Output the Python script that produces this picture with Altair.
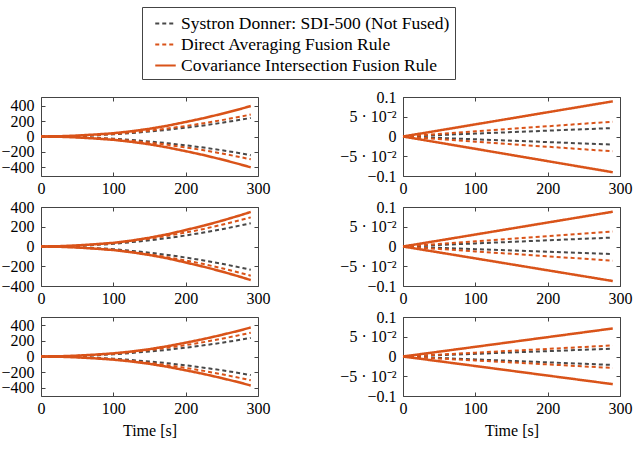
import altair as alt
import pandas as pd

FONT = "Liberation Serif"

T_LEFT = [0, 25, 50, 75, 100, 125, 150, 175, 200, 225, 250, 275, 290]
T_RIGHT = [0, 100, 200, 290]

SERIES = ["Systron Donner: SDI-500 (Not Fused)",
          "Direct Averaging Fusion Rule",
          "Covariance Intersection Fusion Rule"]
COLORS = ["#484848", "#D95319", "#D95319"]
DASHES = [[4, 3], [4, 3], [1, 0]]
WIDTHS = [2.0, 2.0, 2.5]

# ---- left column (x-axis error bounds, large scale) ----
L1_SYS_UP = [0, 2, 7, 16, 28, 45, 64, 87, 114, 144, 178, 216, 240]
L1_SYS_DN = [0, -2, -7, -16, -28, -45, -64, -87, -114, -144, -178, -216, -242]
L1_AVG_UP = [0, 2, 8, 19, 34, 53, 76, 104, 136, 172, 212, 256, 285]
L1_AVG_DN = [0, -2, -9, -20, -35, -55, -79, -108, -141, -178, -220, -266, -296]
L1_CI_UP = [0, 3, 12, 26, 42, 68, 100, 140, 188, 238, 294, 355, 395]
L1_CI_DN = [0, -3, -12, -26, -43, -69, -101, -142, -190, -241, -298, -360, -400]

L2_SYS_UP = [0, 2, 7, 16, 27, 44, 63, 85, 112, 141, 174, 212, 235]
L2_SYS_DN = [0, -2, -7, -16, -27, -44, -63, -85, -112, -141, -174, -212, -235]
L2_AVG_UP = [0, 2, 9, 20, 35, 55, 79, 108, 141, 178, 220, 266, 295]
L2_AVG_DN = [0, -2, -9, -20, -35, -55, -79, -108, -141, -178, -220, -266, -296]
L2_CI_UP = [0, 3, 11, 23, 37, 60, 89, 124, 167, 211, 261, 315, 350]
L2_CI_DN = [0, -3, -10, -22, -36, -58, -86, -120, -162, -205, -253, -306, -340]

L3_SYS_UP = [0, 2, 7, 16, 28, 45, 64, 86, 113, 143, 176, 214, 238]
L3_SYS_DN = [0, -2, -7, -16, -28, -45, -64, -86, -113, -143, -176, -214, -238]
L3_AVG_UP = [0, 2, 9, 21, 36, 57, 82, 111, 146, 184, 227, 275, 305]
L3_AVG_DN = [0, -2, -9, -21, -36, -57, -82, -111, -146, -184, -227, -275, -305]
L3_CI_UP = [0, 3, 11, 24, 40, 64, 94, 132, 177, 224, 277, 334, 372]
L3_CI_DN = [0, -3, -11, -24, -40, -64, -94, -132, -177, -224, -277, -334, -372]

# ---- right column (small scale) ----
R1_SYS_UP = [0, 0.0074, 0.0148, 0.0214]
R1_SYS_DN = [0, -0.0071, -0.0141, -0.0205]
R1_AVG_UP = [0, 0.0130, 0.0259, 0.0376]
R1_AVG_DN = [0, -0.0130, -0.0259, -0.0376]
R1_CI_UP = [0, 0.0307, 0.0614, 0.0890]
R1_CI_DN = [0, -0.0312, -0.0624, -0.0905]

R2_SYS_UP = [0, 0.0078, 0.0157, 0.0227]
R2_SYS_DN = [0, -0.0067, -0.0133, -0.0193]
R2_AVG_UP = [0, 0.0131, 0.0262, 0.0380]
R2_AVG_DN = [0, -0.0124, -0.0248, -0.0360]
R2_CI_UP = [0, 0.0303, 0.0607, 0.0880]
R2_CI_DN = [0, -0.0301, -0.0603, -0.0874]

R3_SYS_UP = [0, 0.0068, 0.0136, 0.0197]
R3_SYS_DN = [0, -0.0074, -0.0148, -0.0214]
R3_AVG_UP = [0, 0.0097, 0.0193, 0.0280]
R3_AVG_DN = [0, -0.0100, -0.0200, -0.0290]
R3_CI_UP = [0, 0.0245, 0.0490, 0.0710]
R3_CI_DN = [0, -0.0241, -0.0483, -0.0700]

X_TICKS = [0, 100, 200, 300]
LEFT_TICKS = [-400, -200, 0, 200, 400]
RIGHT_TICKS = [-0.1, -0.05, 0, 0.05, 0.1]

W, H = 217, 79


def make_df(t, sys_up, sys_dn, avg_up, avg_dn, ci_up, ci_dn):
    rows = []
    groups = [(0, "up", sys_up), (0, "dn", sys_dn),
              (1, "up", avg_up), (1, "dn", avg_dn),
              (2, "up", ci_up), (2, "dn", ci_dn)]
    for k, (si, b, vals) in enumerate(groups):
        for tt, v in zip(t, vals):
            rows.append({"t": tt, "v": v, "series": SERIES[si],
                         "line": f"{si}-{b}", "w": WIDTHS[si], "ord": k})
    return pd.DataFrame(rows)


RIGHT_LABELS = ("datum.value > 0.09 ? '0.1' : datum.value > 0.04 ? '5 · 10⁻²' : "
                "datum.value > -0.01 ? '0' : datum.value > -0.06 ? '−5 · 10⁻²' : '−0.1'")

legend = alt.Legend(title=None, orient="none", legendX=101, legendY=-90,
                    labelFont=FONT, labelExpr="datum.label")


def panel(df, ydom, yticks, label_expr, xtitle):
    xs = alt.Scale(domain=[0, 300], nice=False, zero=False)
    ys = alt.Scale(domain=ydom, nice=False, zero=False)
    yaxis_kw = dict(values=yticks, ticks=False, domain=False, grid=False,
                    labelPadding=7, labelFlush=False, labelOverlap=False,
                    title=None)
    if label_expr:
        yaxis_kw["labelExpr"] = label_expr
    lines = alt.Chart(df).mark_line().encode(
        x=alt.X("t:Q", scale=xs,
                axis=alt.Axis(values=X_TICKS, ticks=False, domain=False,
                              grid=False, labelPadding=4, labelFlush=False,
                              labelOverlap=False,
                              title=xtitle if xtitle else None,
                              titlePadding=6)),
        y=alt.Y("v:Q", scale=ys, axis=alt.Axis(**yaxis_kw)),
        color=alt.Color("series:N", scale=alt.Scale(domain=SERIES, range=COLORS),
                        legend=legend),
        strokeDash=alt.StrokeDash("series:N",
                                  scale=alt.Scale(domain=SERIES, range=DASHES),
                                  legend=legend),
        strokeWidth=alt.StrokeWidth("w:Q", scale=None),
        detail="line:N",
        order="ord:Q",
    )
    tick_kw = dict(labels=False, domain=False, grid=False, ticks=True,
                   tickSize=4, tickColor="#444", title=None)
    t1 = alt.Chart(df).mark_point(opacity=0).encode(
        x=alt.X("t:Q", scale=xs, axis=alt.Axis(orient="top", offset=-H,
                                                values=X_TICKS, **tick_kw)),
        y=alt.Y("v:Q", scale=ys, axis=alt.Axis(orient="right", offset=-W,
                                                values=yticks, **tick_kw)),
    )
    t2 = alt.Chart(df).mark_point(opacity=0).encode(
        x=alt.X("t:Q", scale=xs, axis=alt.Axis(orient="bottom", offset=-H,
                                                values=X_TICKS, **tick_kw)),
        y=alt.Y("v:Q", scale=ys, axis=alt.Axis(orient="left", offset=-W,
                                                values=yticks, **tick_kw)),
    )
    return alt.layer(lines, t1, t2).resolve_axis(x="independent", y="independent") \
        .properties(width=W, height=H)


pL1 = panel(make_df(T_LEFT, L1_SYS_UP, L1_SYS_DN, L1_AVG_UP, L1_AVG_DN, L1_CI_UP, L1_CI_DN),
            [-512, 512], LEFT_TICKS, None, None)
pR1 = panel(make_df(T_RIGHT, R1_SYS_UP, R1_SYS_DN, R1_AVG_UP, R1_AVG_DN, R1_CI_UP, R1_CI_DN),
            [-0.1, 0.1], RIGHT_TICKS, RIGHT_LABELS, None)
pL2 = panel(make_df(T_LEFT, L2_SYS_UP, L2_SYS_DN, L2_AVG_UP, L2_AVG_DN, L2_CI_UP, L2_CI_DN),
            [-400, 400], LEFT_TICKS, None, None)
pR2 = panel(make_df(T_RIGHT, R2_SYS_UP, R2_SYS_DN, R2_AVG_UP, R2_AVG_DN, R2_CI_UP, R2_CI_DN),
            [-0.1, 0.1], RIGHT_TICKS, RIGHT_LABELS, None)
pL3 = panel(make_df(T_LEFT, L3_SYS_UP, L3_SYS_DN, L3_AVG_UP, L3_AVG_DN, L3_CI_UP, L3_CI_DN),
            [-506, 506], LEFT_TICKS, None, "Time [s]")
pR3 = panel(make_df(T_RIGHT, R3_SYS_UP, R3_SYS_DN, R3_AVG_UP, R3_AVG_DN, R3_CI_UP, R3_CI_DN),
            [-0.1, 0.1], RIGHT_TICKS, RIGHT_LABELS, "Time [s]")

chart = alt.concat(pL1, pR1, pL2, pR2, pL3, pR3, columns=2,
                   spacing={"row": 31, "column": 145}, bounds="flush") \
    .properties(padding={"left": 0, "top": 6, "right": 2, "bottom": 5},
                background="white") \
    .configure(font=FONT, style={"guide-label": {"font": FONT}}) \
    .configure_view(stroke="#444", strokeWidth=1) \
    .configure_axis(labelFont=FONT, labelFontSize=16, labelColor="#000",
                    titleFont=FONT, titleFontSize=16, titleFontWeight="normal",
                    titleColor="#000") \
    .configure_legend(labelFont=FONT, labelFontSize=17.5, labelColor="#000",
                      labelLimit=500, labelOffset=4,
                      symbolType="stroke", symbolSize=420, symbolStrokeWidth=2,
                      symbolOffset=7, rowPadding=1, padding=5,
                      strokeColor="#444", fillColor="white")

chart.save("out.html", embed_options={"renderer": "svg", "actions": False})
